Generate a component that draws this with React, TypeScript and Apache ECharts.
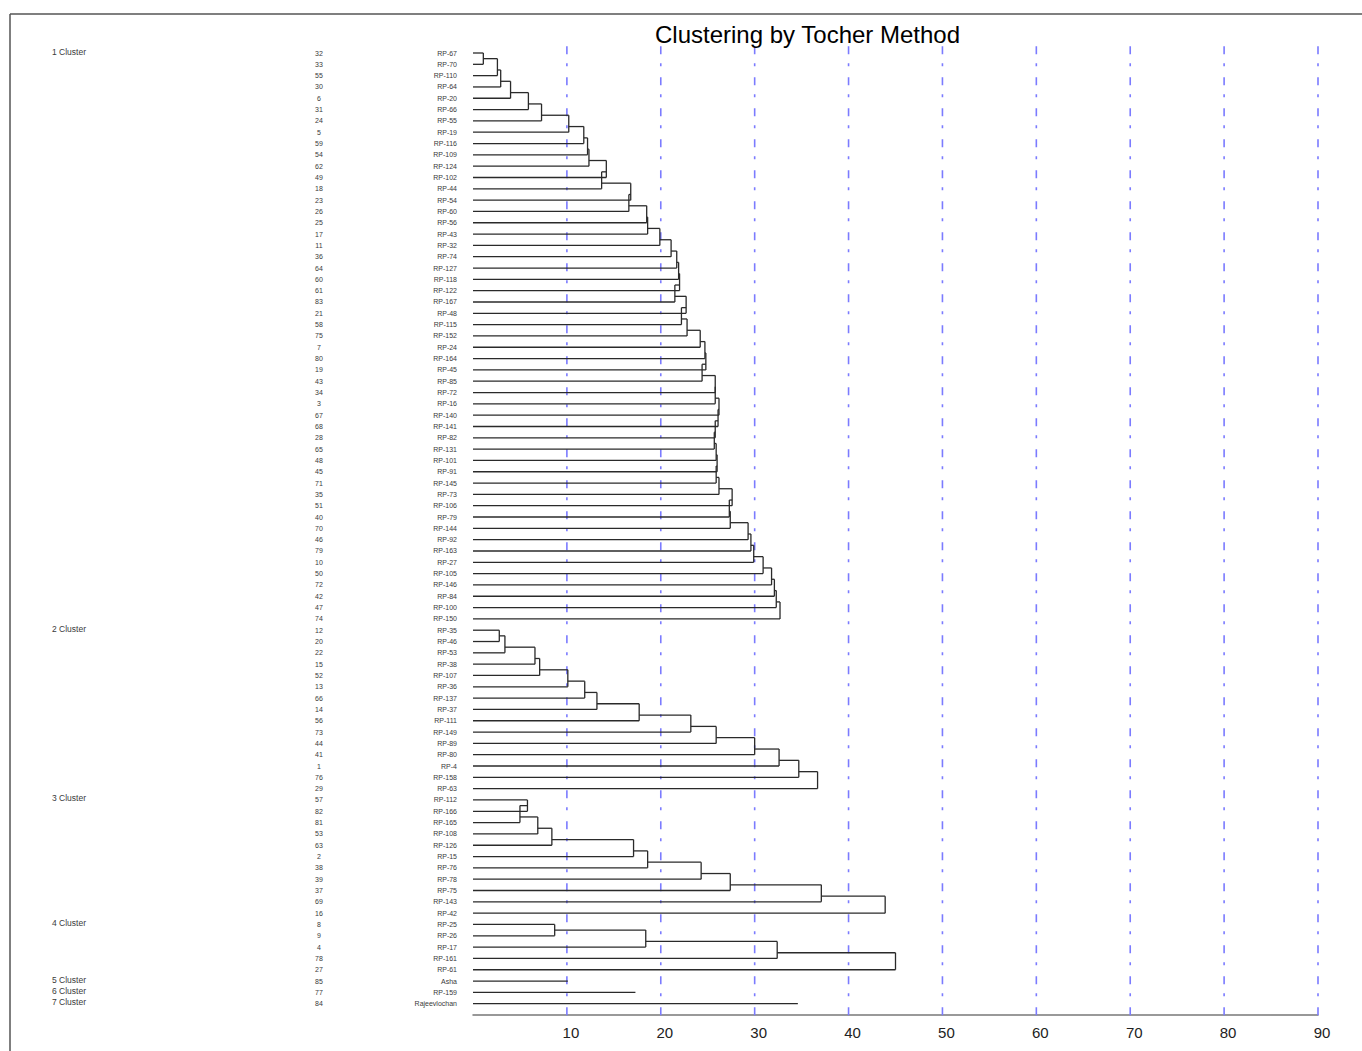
import React, { useEffect, useRef } from "react";
import * as echarts from "echarts";

// ---------- data ----------
const cluster1Genotypes = ["RP-67","RP-70","RP-110","RP-64","RP-20","RP-66","RP-55","RP-19","RP-116","RP-109","RP-124","RP-102","RP-44","RP-54","RP-60","RP-56","RP-43","RP-32","RP-74","RP-127","RP-118","RP-122","RP-167","RP-48","RP-115","RP-152","RP-24","RP-164","RP-45","RP-85","RP-72","RP-16","RP-140","RP-141","RP-82","RP-131","RP-101","RP-91","RP-145","RP-73","RP-106","RP-79","RP-144","RP-92","RP-163","RP-27","RP-105","RP-146","RP-84","RP-100","RP-150"];
const cluster1Serial = [32,33,55,30,6,31,24,5,59,54,62,49,18,23,26,25,17,11,36,64,60,61,83,21,58,75,7,80,19,43,34,3,67,68,28,65,48,45,71,35,51,40,70,46,79,10,50,72,42,47,74];
const cluster1Fusion = [1.1,2.6,2.95,4.0,5.9,7.3,10.2,11.8,12.2,12.35,14.2,13.7,16.8,16.6,18.5,18.6,19.9,21.1,21.7,21.9,22.0,21.5,22.7,22.2,22.8,24.2,24.7,24.8,24.4,25.8,25.8,26.2,26.1,25.8,25.7,25.9,26.0,25.9,26.2,27.6,27.3,27.4,29.3,29.6,29.9,30.9,31.8,32.1,32.3,32.7];

const cluster2Genotypes = ["RP-35","RP-46","RP-53","RP-38","RP-107","RP-36","RP-137","RP-37","RP-111","RP-149","RP-89","RP-80","RP-4","RP-158","RP-63"];
const cluster2Serial = [12,20,22,15,52,13,66,14,56,73,44,41,1,76,29];
const cluster2Fusion = [2.8,3.4,6.6,7.1,10.1,11.9,13.2,17.7,23.2,25.9,30.0,32.6,34.7,36.7];

const cluster3Genotypes = ["RP-112","RP-166","RP-165","RP-108","RP-126","RP-15","RP-76","RP-78","RP-75","RP-143","RP-42"];
const cluster3Serial = [57,82,81,53,63,2,38,39,37,69,16];
const cluster3Fusion = [5.8,5.0,6.9,8.4,17.1,18.6,24.3,27.4,37.1,43.9];

const cluster4Genotypes = ["RP-25","RP-26","RP-17","RP-161","RP-61"];
const cluster4Serial = [8,9,4,78,27];
const cluster4Fusion = [8.7,18.4,32.4,45.0];

const cluster5Genotypes = ["Asha"];
const cluster5Serial = [85];
const cluster5Fusion = [10.1];

const cluster6Genotypes = ["RP-159"];
const cluster6Serial = [77];
const cluster6Fusion = [17.3];

const cluster7Genotypes = ["Rajeevlochan"];
const cluster7Serial = [84];
const cluster7Fusion = [34.6];

const clusterLabels = ["1 Cluster","2 Cluster","3 Cluster","4 Cluster","5 Cluster","6 Cluster","7 Cluster"];
const xTicks = [10,20,30,40,50,60,70,80,90];
const titleText = "Clustering by Tocher Method";

const clusters = [
  { names: cluster1Genotypes, serials: cluster1Serial, fusion: cluster1Fusion },
  { names: cluster2Genotypes, serials: cluster2Serial, fusion: cluster2Fusion },
  { names: cluster3Genotypes, serials: cluster3Serial, fusion: cluster3Fusion },
  { names: cluster4Genotypes, serials: cluster4Serial, fusion: cluster4Fusion },
  { names: cluster5Genotypes, serials: cluster5Serial, fusion: cluster5Fusion },
  { names: cluster6Genotypes, serials: cluster6Serial, fusion: cluster6Fusion },
  { names: cluster7Genotypes, serials: cluster7Serial, fusion: cluster7Fusion },
];

// build segments and leaf rows
const segments: number[][] = [];
const leafRows: number[][] = [];
const leafNames: string[] = [];
const leafSerials: string[] = [];
const leafCluster: string[] = [];
let rowCounter = 0;
clusters.forEach((c, ci) => {
  const start = rowCounter;
  const n = c.names.length;
  c.names.forEach((nm, i) => {
    leafRows.push([0, start + i]);
    leafNames.push(nm);
    leafSerials.push(String(c.serials[i]));
    leafCluster.push(i === 0 ? clusterLabels[ci] : "");
  });
  if (n === 1) {
    segments.push([0, start, c.fusion[0], start]);
  } else {
    let pos = start;
    let prevH = 0;
    for (let k = 1; k < n; k++) {
      const rk = start + k;
      const h = c.fusion[k - 1];
      segments.push([prevH, pos, h, pos]);
      segments.push([0, rk, h, rk]);
      segments.push([h, pos, h, rk]);
      pos = rk - 0.5;
      prevH = h;
    }
  }
  rowCounter += n;
});
const totalRows = rowCounter; // 85

const FONT = "'Liberation Sans', Arial, Helvetica, sans-serif";

export default function App() {
  const ref = useRef<HTMLDivElement>(null);
  useEffect(() => {
    if (!ref.current) return;
    const chart = echarts.init(ref.current, undefined, { renderer: "svg" });
    chart.setOption({
      animation: false,
      backgroundColor: "#ffffff",
      title: {
        text: titleText,
        left: 650,
        top: 17,
        textStyle: { fontSize: 24, fontWeight: "normal", color: "#000", fontFamily: FONT },
      },
      graphic: [
        { type: "line", shape: { x1: 10, y1: 14, x2: 1362, y2: 14 }, style: { stroke: "#555", lineWidth: 1.5 } },
        { type: "line", shape: { x1: 10, y1: 14, x2: 10, y2: 1051 }, style: { stroke: "#555", lineWidth: 1.5 } },
      ],
      grid: { left: 473, right: 44, top: 53, bottom: 36, containLabel: false },
      xAxis: {
        type: "value",
        min: 0,
        max: 90,
        interval: 10,
        position: "bottom",
        axisLine: { show: true, onZero: false, lineStyle: { color: "#777", width: 1.5 } },
        axisTick: { show: false },
        splitLine: { show: false },
        axisLabel: {
          formatter: (v: number) => (v === 0 ? "" : String(v)),
          fontSize: 15,
          color: "#222",
          margin: 10,
          padding: [0, 0, 0, 8],
          fontFamily: FONT,
        },
      },
      yAxis: {
        type: "value",
        inverse: true,
        min: 0,
        max: totalRows,
        show: false,
      },
      series: [
        {
          type: "custom",
          name: "refLines",
          data: xTicks.map((t) => [t]),
          encode: { x: 0 },
          silent: true,
          z: 1,
          renderItem: (params: any, api: any) => {
            const v = api.value(0);
            const p1 = api.coord([v, -0.6]);
            const p2 = api.coord([v, totalRows + 0.5]);
            return {
              type: "line",
              shape: { x1: p1[0], y1: p1[1], x2: p2[0], y2: p2[1] },
              style: { stroke: "#7b7bff", lineWidth: 1.6, lineDash: [8, 9, 3, 11] },
            };
          },
        },
        {
          type: "custom",
          name: "dendrogram",
          data: segments,
          encode: { x: [0, 2], y: [1, 3] },
          silent: true,
          z: 3,
          renderItem: (params: any, api: any) => {
            const p1 = api.coord([api.value(0), api.value(1)]);
            const p2 = api.coord([api.value(2), api.value(3)]);
            return {
              type: "line",
              shape: { x1: p1[0], y1: p1[1], x2: p2[0], y2: p2[1] },
              style: { stroke: "#2a2a2a", lineWidth: 1.3 },
            };
          },
        },
        {
          type: "custom",
          name: "labels",
          data: leafRows,
          encode: { x: 0, y: 1 },
          silent: true,
          z: 4,
          renderItem: (params: any, api: any) => {
            const i = params.dataIndex;
            const p = api.coord([api.value(0), api.value(1)]);
            const children: any[] = [
              {
                type: "text",
                x: p[0] - 16,
                y: p[1],
                style: { text: leafNames[i], fontSize: 7, fontFamily: FONT, fill: "#3a3a3a", align: "right", verticalAlign: "middle" },
              },
              {
                type: "text",
                x: p[0] - 154,
                y: p[1],
                style: { text: leafSerials[i], fontSize: 7, fontFamily: FONT, fill: "#3a3a3a", align: "center", verticalAlign: "middle" },
              },
            ];
            if (leafCluster[i]) {
              children.push({
                type: "text",
                x: p[0] - 421,
                y: p[1] - 1.5,
                style: { text: leafCluster[i], fontSize: 8.5, fontFamily: FONT, fill: "#3a3a3a", align: "left", verticalAlign: "middle" },
              });
            }
            return { type: "group", children };
          },
        },
      ],
    });
    return () => chart.dispose();
  }, []);
  return (
    <div
      ref={ref}
      style={{ position: "absolute", left: 0, top: 0, width: 1362, height: 1051, background: "#fff" }}
    />
  );
}
